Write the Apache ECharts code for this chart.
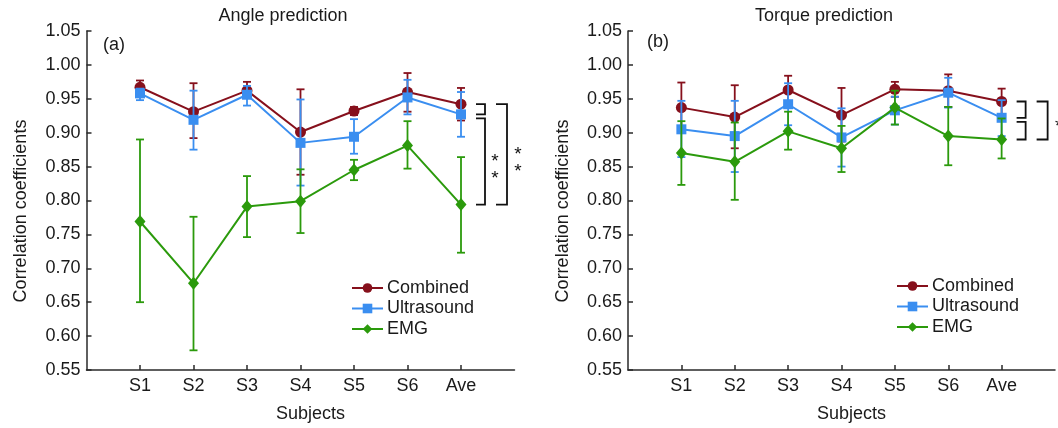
<!DOCTYPE html>
<html>
<head>
<meta charset="utf-8">
<script src="https://cdn.jsdelivr.net/npm/echarts@6/dist/echarts.min.js"></script>
<style>
  html, body { margin: 0; padding: 0; background: #fff; }
  #chart { width: 1058px; height: 428px; }
</style>
</head>
<body>
<div id="chart"></div>
<script>
// Subjects on the x axis (blank slots pad both ends of the axis)
const subjects = ['S1', 'S2', 'S3', 'S4', 'S5', 'S6', 'Ave'];
const yTicks = { min: 0.55, max: 1.05, step: 0.05 };

// Angle prediction: mean correlation and error bar limits
const angleCombined   = [0.967, 0.931, 0.962, 0.901, 0.932, 0.960, 0.942];
const angleCombinedLo = [0.957, 0.892, 0.951, 0.838, 0.926, 0.931, 0.918];
const angleCombinedHi = [0.977, 0.973, 0.975, 0.964, 0.938, 0.988, 0.966];
const angleUltra      = [0.958, 0.919, 0.956, 0.885, 0.894, 0.952, 0.927];
const angleUltraLo    = [0.948, 0.875, 0.940, 0.822, 0.869, 0.927, 0.894];
const angleUltraHi    = [0.965, 0.962, 0.969, 0.949, 0.920, 0.978, 0.960];
const angleEmg        = [0.769, 0.678, 0.791, 0.799, 0.845, 0.881, 0.794];
const angleEmgLo      = [0.650, 0.579, 0.746, 0.752, 0.830, 0.847, 0.723];
const angleEmgHi      = [0.890, 0.776, 0.836, 0.846, 0.860, 0.917, 0.864];

// Torque prediction: mean correlation and error bar limits
const torqueCombined   = [0.937, 0.923, 0.963, 0.926, 0.964, 0.962, 0.946];
const torqueCombinedLo = [0.900, 0.877, 0.943, 0.887, 0.953, 0.938, 0.926];
const torqueCombinedHi = [0.974, 0.970, 0.984, 0.966, 0.975, 0.986, 0.965];
const torqueUltra      = [0.905, 0.895, 0.942, 0.893, 0.933, 0.959, 0.922];
const torqueUltraLo    = [0.864, 0.842, 0.911, 0.850, 0.912, 0.937, 0.895];
const torqueUltraHi    = [0.947, 0.947, 0.973, 0.936, 0.953, 0.981, 0.948];
const torqueEmg        = [0.870, 0.857, 0.902, 0.877, 0.937, 0.895, 0.890];
const torqueEmgLo      = [0.823, 0.801, 0.875, 0.842, 0.912, 0.852, 0.862];
const torqueEmgHi      = [0.917, 0.915, 0.931, 0.910, 0.962, 0.938, 0.921];

// Significance brackets between the averages: [from, to, marks]
const angleBrackets  = [['Combined', 'Ultrasound', ''], ['Ultrasound', 'EMG', '*\n*'], ['Combined', 'EMG', '*\n*']];
const torqueBrackets = [['Combined', 'Ultrasound', ''], ['Ultrasound', 'EMG', ''], ['Combined', 'EMG', '*']];

const FONT = 'Liberation Sans, Arial, Helvetica, sans-serif';
const COLORS = { Combined: '#86101c', Ultrasound: '#3a8ef0', EMG: '#2b9a0c' };
const SYMBOLS = { Combined: ['circle', 11], Ultrasound: ['rect', 10], EMG: ['diamond', [11, 13]] };
const axisCats = [''].concat(subjects, ['']);

const chart = echarts.init(document.getElementById('chart'), null, { renderer: 'canvas' });

function errorBarSeries(name, lo, hi, gridIdx, z) {
  const color = COLORS[name];
  return {
    type: 'custom',
    name: name + ' range',
    xAxisIndex: gridIdx, yAxisIndex: gridIdx,
    z: z,
    silent: true,
    encode: { x: 0, y: [1, 2] },
    data: lo.map((v, i) => [i + 1, v, hi[i]]),
    renderItem: function (params, api) {
      const x = api.value(0);
      const a = api.coord([x, api.value(1)]);
      const b = api.coord([x, api.value(2)]);
      const w = 4;
      const style = { stroke: color, lineWidth: 1.8, fill: null };
      return {
        type: 'group',
        children: [
          { type: 'line', shape: { x1: a[0], y1: a[1], x2: b[0], y2: b[1] }, style: style },
          { type: 'line', shape: { x1: a[0] - w, y1: a[1], x2: a[0] + w, y2: a[1] }, style: style },
          { type: 'line', shape: { x1: b[0] - w, y1: b[1], x2: b[0] + w, y2: b[1] }, style: style }
        ]
      };
    }
  };
}

function lineSeries(name, values, gridIdx, z) {
  const sym = SYMBOLS[name];
  return {
    type: 'line',
    name: name,
    xAxisIndex: gridIdx, yAxisIndex: gridIdx,
    z: z,
    data: values.map((v, i) => [i + 1, v]),
    symbol: sym[0],
    symbolSize: sym[1],
    showAllSymbol: true,
    lineStyle: { color: COLORS[name], width: 2 },
    itemStyle: { color: COLORS[name] },
    emphasis: { disabled: true }
  };
}

function bracketSeries(brackets, aves, gridIdx) {
  // Inner brackets join neighbouring averages, the outer one spans the extremes
  const data = brackets.map(b => [subjects.length, aves[b[0]], aves[b[1]], b[0] === 'Combined' && b[1] === 'EMG' ? 1 : 0, b[0] === 'Ultrasound' ? 1 : 0]);
  return {
    type: 'custom',
    name: 'brackets',
    xAxisIndex: gridIdx, yAxisIndex: gridIdx,
    z: 10,
    silent: true,
    clip: false,
    encode: { x: 0, y: [1, 2] },
    data: data,
    renderItem: function (params, api) {
      const idx = params.dataIndex;
      const marks = brackets[idx][2];
      const top = api.coord([api.value(0), api.value(1)]);
      const bot = api.coord([api.value(0), api.value(2)]);
      const outer = api.value(3) === 1;
      const shifted = api.value(4) === 1;
      const x0 = top[0] + (outer ? 35 : 15);
      const x1 = top[0] + (outer ? 46 : 24);
      const yT = top[1] + (shifted ? 4 : 0);
      const yB = bot[1];
      const children = [{
        type: 'polyline',
        shape: { points: [[x0, yT], [x1, yT], [x1, yB], [x0, yB]] },
        style: { stroke: '#111', lineWidth: 1.8, fill: null }
      }];
      if (marks) {
        const n = marks.split('\n').length;
        children.push({
          type: 'text',
          style: {
            text: marks,
            x: x1 + (outer ? 11 : 10),
            y: (yT + yB) / 2 + (n > 1 ? 9 : 6),
            align: 'center', verticalAlign: 'middle',
            fontSize: 19, lineHeight: 17, fontFamily: FONT, fill: '#111'
          }
        });
      }
      return { type: 'group', children: children };
    }
  };
}

function panelSeries(gridIdx, d, brackets) {
  return [
    errorBarSeries('Combined', d.cLo, d.cHi, gridIdx, 2),
    lineSeries('Combined', d.c, gridIdx, 3),
    errorBarSeries('Ultrasound', d.uLo, d.uHi, gridIdx, 4),
    lineSeries('Ultrasound', d.u, gridIdx, 5),
    errorBarSeries('EMG', d.eLo, d.eHi, gridIdx, 6),
    lineSeries('EMG', d.e, gridIdx, 7),
    bracketSeries(brackets, {
      Combined: d.c[d.c.length - 1],
      Ultrasound: d.u[d.u.length - 1],
      EMG: d.e[d.e.length - 1]
    }, gridIdx)
  ];
}

const axisLineStyle = { show: true, lineStyle: { color: '#2a2a2a', width: 1.5 } };
const textCommon = { fontFamily: FONT, fontSize: 18, color: '#1a1a1a' };

function xAxisFor(gridIdx) {
  return {
    type: 'category',
    gridIndex: gridIdx,
    data: axisCats,
    boundaryGap: false,
    axisLine: axisLineStyle,
    axisTick: { show: true, inside: true, length: 5, lineStyle: { color: '#2a2a2a', width: 1.5 },
                interval: (i, v) => v !== '' },
    axisLabel: Object.assign({ interval: 0, margin: 7 }, textCommon),
    splitLine: { show: false },
    name: 'Subjects',
    nameLocation: 'middle',
    nameGap: 35,
    nameTextStyle: Object.assign({ padding: [0, 0, 0, 20] }, textCommon)
  };
}

function yAxisFor(gridIdx) {
  return {
    type: 'value',
    gridIndex: gridIdx,
    min: yTicks.min, max: yTicks.max, interval: yTicks.step,
    axisLine: axisLineStyle,
    axisTick: { show: true, inside: true, length: 5, lineStyle: { color: '#2a2a2a', width: 1.5 } },
    axisLabel: Object.assign({ margin: 6, formatter: v => v.toFixed(2) }, textCommon),
    splitLine: { show: false },
    name: 'Correlation coefficients',
    nameLocation: 'middle',
    nameGap: 56,
    nameTextStyle: Object.assign({ padding: [0, 21, 0, 0] }, textCommon)
  };
}

function legendFor(left, top) {
  return {
    left: left, top: top,
    padding: 0,
    orient: 'vertical',
    itemWidth: 31, itemHeight: 12,
    itemGap: 2.5,
    selectedMode: false,
    textStyle: Object.assign({ padding: [0, 0, 0, -1] }, textCommon),
    data: ['Combined', 'Ultrasound', 'EMG']
  };
}

function label(text, x, y) {
  return {
    type: 'text', x: x, y: y,
    style: { text: text, fontSize: 18, fontFamily: FONT, fill: '#1a1a1a', align: 'center', verticalAlign: 'middle' }
  };
}

chart.setOption({
  animation: false,
  backgroundColor: '#fff',
  grid: [
    { left: 86.5, top: 31, width: 428, height: 345 },
    { left: 628, top: 31, width: 428, height: 345 }
  ],
  xAxis: [xAxisFor(0), xAxisFor(1)],
  yAxis: [yAxisFor(0), yAxisFor(1)],
  legend: [legendFor(351, 279), legendFor(896, 277)],
  graphic: [
    label('Angle prediction', 283, 16),
    label('Torque prediction', 824, 16),
    label('(a)', 114, 45),
    label('(b)', 658, 42)
  ],
  series: [].concat(
    panelSeries(0, {
      c: angleCombined, cLo: angleCombinedLo, cHi: angleCombinedHi,
      u: angleUltra, uLo: angleUltraLo, uHi: angleUltraHi,
      e: angleEmg, eLo: angleEmgLo, eHi: angleEmgHi
    }, angleBrackets),
    panelSeries(1, {
      c: torqueCombined, cLo: torqueCombinedLo, cHi: torqueCombinedHi,
      u: torqueUltra, uLo: torqueUltraLo, uHi: torqueUltraHi,
      e: torqueEmg, eLo: torqueEmgLo, eHi: torqueEmgHi
    }, torqueBrackets)
  )
});
</script>
</body>
</html>
